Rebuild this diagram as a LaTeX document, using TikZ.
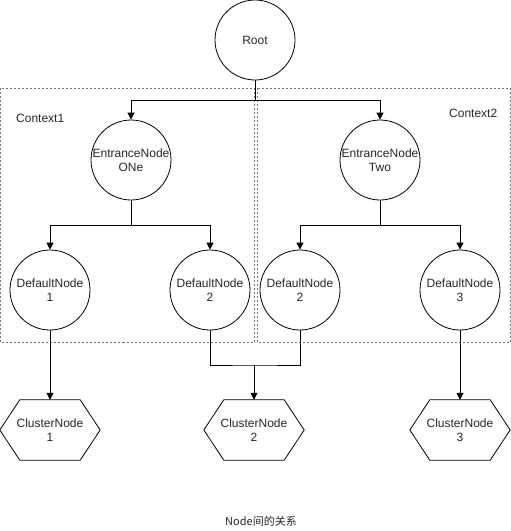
\documentclass[tikz,border=0pt]{standalone}
\usepackage{fontspec}
\setmainfont{Liberation Sans}
\newfontfamily\cjkfont{Noto Sans CJK SC}
\usetikzlibrary{arrows.meta}
\begin{document}
\begin{tikzpicture}[x=1pt,y=-1pt,
  every node/.style={font=\fontsize{12}{14}\selectfont, text=black!85, align=center, inner sep=0pt},
  circ/.style={draw, circle, minimum size=80pt, line width=0.8pt},
  hexa/.style={minimum width=100pt, minimum height=60pt},
  conn/.style={line width=0.8pt},
  arr/.style={conn, -{Triangle[length=7pt,width=7pt]}},
  ctx/.style={draw=black!55, dash pattern=on 2pt off 2pt, line width=0.6pt},
  lbl/.style={anchor=west}]
\useasboundingbox (0,0) rectangle (511,531);
% context boxes
\draw[ctx] (0.5,88) rectangle (254,342);
\draw[ctx] (257,88) rectangle (510.5,342);
\node[lbl] (ctx1) at (16,118) {Context1};
\node[lbl] (ctx2) at (449,113) {Context2};
% nodes
\node[circ] (root) at (255,40) {Root};
\node[circ] (en1) at (131,160) {EntranceNode\\ONe};
\node[circ] (en2) at (380,160) {EntranceNode\\Two};
\node[circ] (d1) at (50,290) {DefaultNode\\1};
\node[circ] (d2) at (210,290) {DefaultNode\\2};
\node[circ] (d2b) at (300,290) {DefaultNode\\2};
\node[circ] (d3) at (460,290) {DefaultNode\\3};
\node[hexa] (c1) at (50,430) {ClusterNode\\1};
\node[hexa] (c2) at (254,430) {ClusterNode\\2};
\node[hexa] (c3) at (460,430) {ClusterNode\\3};
\foreach \h in {c1,c2,c3}{
  \draw[line width=0.8pt] (\h.west) -- ([xshift=20pt]\h.north west) -- ([xshift=-20pt]\h.north east)
    -- (\h.east) -- ([xshift=-20pt]\h.south east) -- ([xshift=20pt]\h.south west) -- cycle;
}
\node (cap) at (261,521) {\cjkfont\fontsize{11}{13}\selectfont Node间的关系};
% junctions
\coordinate (j0) at (255,100);
\coordinate (j1) at (131,225);
\coordinate (j2) at (380,225);
\coordinate (j3) at (254,365);
% connectors
\draw[conn] (root.south) -- (j0);
\draw[arr] (j0) -| (en1.north);
\draw[arr] (j0) -| (en2.north);
\draw[conn] (en1.south) -- (j1);
\draw[arr] (j1) -| (d1.north);
\draw[arr] (j1) -| (d2.north);
\draw[conn] (en2.south) -- (j2);
\draw[arr] (j2) -| (d2b.north);
\draw[arr] (j2) -| (d3.north);
\draw[arr] (d1.south) -- (c1.north);
\draw[arr] (d3.south) -- (c3.north);
\draw[conn] (d2.south) |- (j3) -| (d2b.south);
\draw[arr] (j3) -- (c2.north);
\end{tikzpicture}
\end{document}
